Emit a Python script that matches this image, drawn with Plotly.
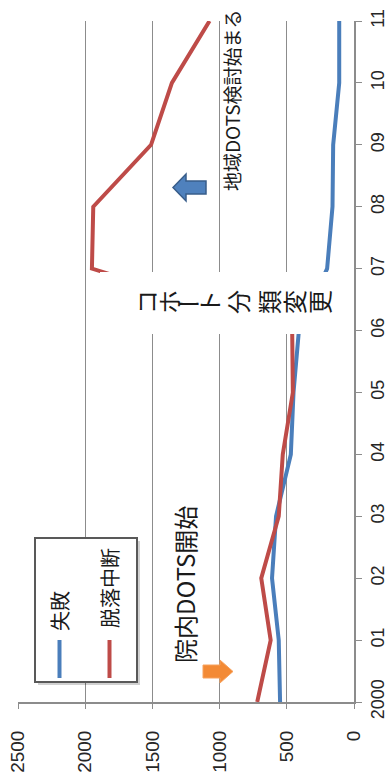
import plotly.graph_objects as go

# Yearly counts by cohort outcome
years = ["2000", "01", "02", "03", "04", "05", "06", "07", "08", "09", "10", "11"]
failure = [550, 560, 610, 580, 470, 450, 410, 200, 160, 155, 110, 110]
dropout = [720, 620, 690, 560, 530, 455, 460, 1950, 1940, 1510, 1355, 1075]
series_names = ["失敗", "脱落中断"]
value_ticks = [0, 500, 1000, 1500, 2000, 2500]

BLUE = "#4A7EBB"
RED = "#BE4B48"
W, H = 387, 773
L, R, T, B = 18, 33, 21, 71
PW, PH = W - L - R, H - T - B

def px(x):
    return (x - L) / PW

def py(y):
    return (H - B - y) / PH

def path(points):
    return "M " + " L ".join(f"{px(a):.5f},{py(b):.5f}" for a, b in points) + " Z"

pos = list(range(len(years)))
fig = go.Figure()
fig.add_trace(go.Scatter(x=failure, y=pos, mode="lines", name=series_names[0],
                         line=dict(color=BLUE, width=4)))
fig.add_trace(go.Scatter(x=dropout, y=pos, mode="lines", name=series_names[1],
                         line=dict(color=RED, width=4)))

shapes = []
# white panel behind the vertical caption
shapes.append(dict(type="rect", xref="paper", yref="paper", layer="above",
                   x0=px(100), x1=px(338), y0=py(334), y1=py(272),
                   fillcolor="white", line=dict(width=0)))
# legend frame with a soft shadow
shapes.append(dict(type="rect", xref="paper", yref="paper", layer="above",
                   x0=px(38), x1=px(140), y0=py(685), y1=py(541),
                   fillcolor="rgba(0,0,0,0.18)", line=dict(width=0)))
shapes.append(dict(type="rect", xref="paper", yref="paper", layer="above",
                   x0=px(35), x1=px(137), y0=py(682), y1=py(538),
                   fillcolor="white", line=dict(color="#595959", width=2)))
for xc, col in [(59.5, BLUE), (109.5, RED)]:
    shapes.append(dict(type="line", xref="paper", yref="paper", layer="above",
                       x0=px(xc), x1=px(xc), y0=py(678), y1=py(640),
                       line=dict(color=col, width=4)))
# orange block arrow pointing right
shapes.append(dict(type="path", xref="paper", yref="paper", layer="above",
                   path=path([(203, 665), (220, 665), (220, 660), (233, 671.5),
                              (220, 683), (220, 678), (203, 678)]),
                   fillcolor="#F38A35", line=dict(color="#F7A25E", width=1)))
# blue block arrow pointing left
shapes.append(dict(type="path", xref="paper", yref="paper", layer="above",
                   path=path([(173, 187.5), (186, 174), (186, 181), (206, 181),
                              (206, 194), (186, 194), (186, 201)]),
                   fillcolor="#4F81BD", line=dict(color="#385D8A", width=1.5)))

JP = "Noto Sans CJK JP"
ann = []
ann.append(dict(text=series_names[0], x=px(59), y=py(611), textangle=-90))
ann.append(dict(text=series_names[1], x=px(109), y=py(588), textangle=-90))
for a in ann:
    a.update(font=dict(family=JP, size=20, color="#1a1a1a"))
ann.append(dict(text="院内DOTS開始", x=px(184), y=py(585), textangle=-90,
                font=dict(family=JP, size=24, color="#1a1a1a")))
ann.append(dict(text="地域DOTS検討始まる", x=px(231), y=py(100), textangle=-90,
                font=dict(family=JP, size=19, color="#1a1a1a")))
caption = "コホート分類変更"
char_x = [145, 168, 189, 208, 237, 268, 293, 318]
for ch, cx in zip(caption, char_x):
    ann.append(dict(text=ch, x=px(cx), y=py(302), textangle=0 if ch == "ー" else -90,
                    font=dict(family=JP, size=24, color="#1a1a1a")))
for a in ann:
    a.update(xref="paper", yref="paper", showarrow=False,
             xanchor="center", yanchor="middle")

fig.update_layout(
    width=W, height=H, margin=dict(l=L, r=R, t=T, b=B),
    paper_bgcolor="white", plot_bgcolor="white", showlegend=False,
    shapes=shapes, annotations=ann,
    xaxis=dict(range=[2500, 0], tickvals=value_ticks, tickangle=-90,
               automargin=False,
               showgrid=True, gridcolor="#8c8c8c", gridwidth=1, zeroline=False,
               showline=True, linecolor="#8c8c8c", linewidth=2,
               ticks="outside", ticklen=5, tickcolor="#8c8c8c",
               ticklabelstandoff=14,
               tickfont=dict(family="Liberation Sans", size=19, color="#262626")),
    yaxis=dict(range=[0, 11], tickvals=pos, ticktext=years, side="right",
               automargin=False,
               tickangle=-90, showgrid=False, zeroline=False,
               showline=True, linecolor="#8c8c8c", linewidth=2,
               ticks="outside", ticklen=6, tickcolor="#8c8c8c",
               ticklabelstandoff=0,
               tickfont=dict(family="Liberation Sans", size=18, color="#262626")),
)

fig.write_html("out.html")
